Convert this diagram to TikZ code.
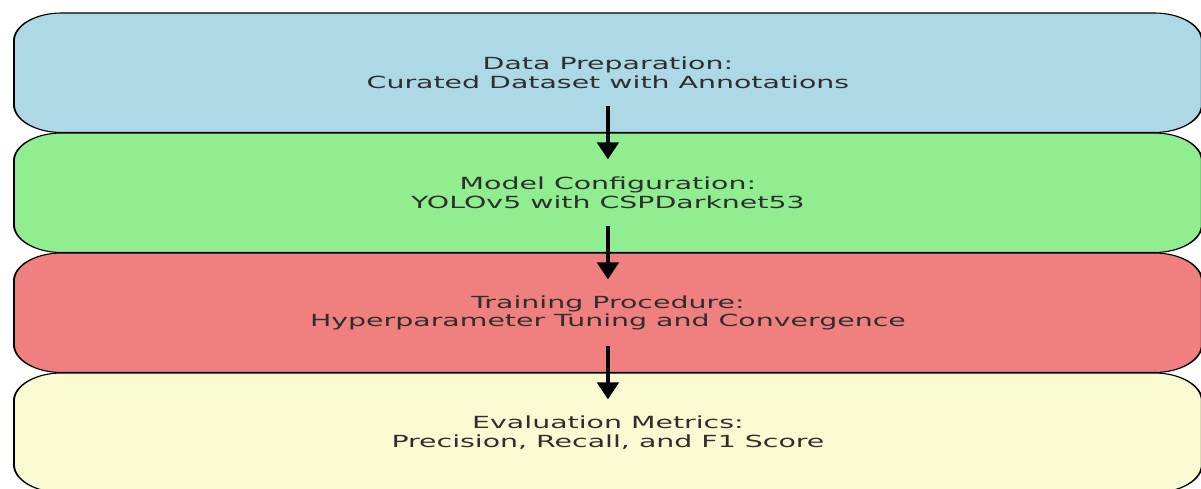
\documentclass[tikz,border=0pt]{standalone}
\usepackage{fontspec}
\setmainfont{DejaVu Sans}
\usetikzlibrary{arrows.meta,calc}
\definecolor{stageblue}{HTML}{ADD8E6}
\definecolor{stagegreen}{HTML}{90EE90}
\definecolor{stagered}{HTML}{F08080}
\definecolor{stageyellow}{HTML}{FAFAD2}
\definecolor{stagetext}{HTML}{2E2E2E}
\begin{document}
\begin{tikzpicture}[x=1pt,y=1pt,
  stage/.style={draw=black, line width=1.1pt, rounded corners=28pt,
    minimum width=698.8pt, minimum height=119.5pt, inner sep=0pt,
    align=center, font=\fontsize{16.7}{18.7}\selectfont, text=stagetext},
  flow/.style={line width=2.4pt, -{Triangle[width=12.4pt,length=17pt]}}]
\useasboundingbox (0,0) rectangle (1201,-489);
% the whole chart is stretched horizontally
\begin{scope}[transform canvas={xscale=1.7}]
  \node[stage, fill=stageblue]   (prep)  at (357.6,-72.75)
    {Data Preparation:\\Curated Dataset with Annotations};
  \node[stage, fill=stagegreen]  (model) at (357.6,-192.75)
    {Model Configuration:\\YOLOv5 with CSPDarknet53};
  \node[stage, fill=stagered]    (train) at (357.6,-312.75)
    {Training Procedure:\\Hyperparameter Tuning and Convergence};
  \node[stage, fill=stageyellow] (eval)  at (357.6,-432.75)
    {Evaluation Metrics:\\Precision, Recall, and F1 Score};
  \draw[flow] ($(prep.south)+(0,27)$)  -- ($(model.north)-(0,27)$);
  \draw[flow] ($(model.south)+(0,27)$) -- ($(train.north)-(0,27)$);
  \draw[flow] ($(train.south)+(0,27)$) -- ($(eval.north)-(0,27)$);
\end{scope}
\end{tikzpicture}
\end{document}
